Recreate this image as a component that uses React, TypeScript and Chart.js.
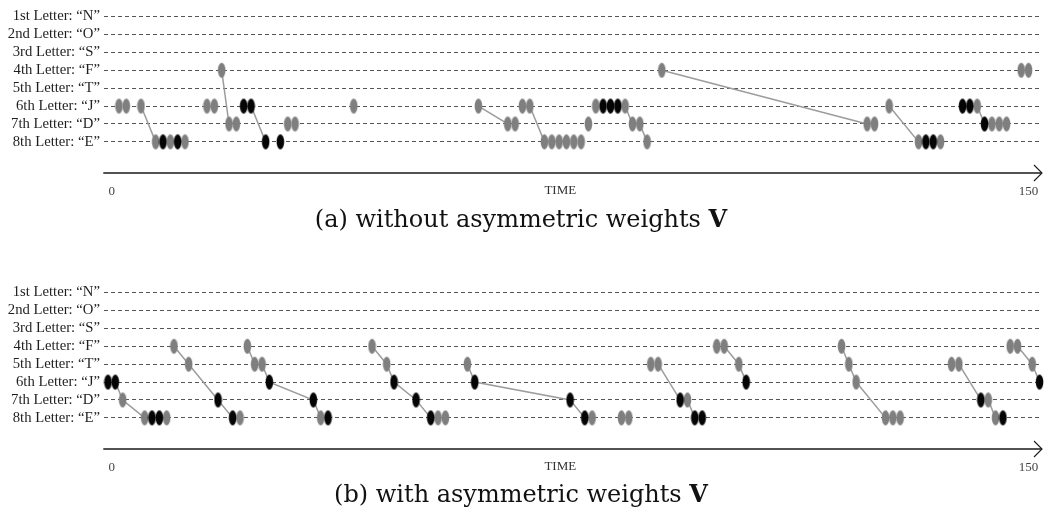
import { useEffect, useRef } from "react";
import { Chart, registerables } from "chart.js";

Chart.register(...registerables);

const FONT = '"Liberation Serif", "Times New Roman", serif';
const CAPTION_FONT = '"DejaVu Serif", "Liberation Serif", serif';

// Row labels, top (row 1) to bottom (row 8)
const rowLabels = [
  "1st Letter: \u201CN\u201D",
  "2nd Letter: \u201CO\u201D",
  "3rd Letter: \u201CS\u201D",
  "4th Letter: \u201CF\u201D",
  "5th Letter: \u201CT\u201D",
  "6th Letter: \u201CJ\u201D",
  "7th Letter: \u201CD\u201D",
  "8th Letter: \u201CE\u201D",
];
const timeTicks = [0, 150];
const timeTitle = "TIME";
const TIME_TITLE_AT = 73.4;

// (a) spike times per letter row; grey and black spikes
const aGrayF = [18, 90, 148.8, 150];
const aGrayJ = [1.2, 2.4, 4.8, 15.6, 16.8, 39.6, 60, 67.2, 68.4, 79.2, 84, 127.2, 141.6];
const aBlackJ = [21.6, 22.8, 80.4, 81.6, 82.8, 139.2, 140.4];
const aGrayD = [19.2, 20.4, 28.8, 30, 64.8, 66, 78, 85.2, 86.4, 123.6, 124.8, 144, 145.2, 146.4];
const aBlackD = [142.8];
const aGrayE = [7.2, 9.6, 12, 70.8, 72, 73.2, 74.4, 75.6, 76.8, 87.6, 132, 135.6];
const aBlackE = [8.4, 10.8, 25.2, 27.6, 133.2, 134.4];
// (a) transitions between letters: [time, row] chains
const aLinks = [
  [[4.8, 6], [7.2, 8]],
  [[18, 4], [19.2, 7]],
  [[22.8, 6], [25.2, 8]],
  [[60, 6], [64.8, 7]],
  [[68.4, 6], [70.8, 8]],
  [[84, 6], [85.2, 7]],
  [[86.4, 7], [87.6, 8]],
  [[90, 4], [123.6, 7]],
  [[127.2, 6], [132, 8]],
  [[141.6, 6], [142.8, 7]],
];

// (b) spike times per letter row; grey and black spikes
const bGrayF = [10.2, 22.2, 42.6, 99, 100.2, 119.4, 147, 148.2];
const bGrayT = [12.6, 23.4, 24.6, 45, 58.2, 88.2, 89.4, 102.6, 120.6, 137.4, 138.6, 150.6];
const bGrayJ = [121.8];
const bBlackJ = [-0.6, 0.6, 25.8, 46.2, 59.4, 103.8, 151.8];
const bGrayD = [1.8, 94.2, 143.4];
const bBlackD = [17.4, 33, 49.8, 75, 93, 142.2];
const bGrayE = [5.4, 9, 21, 34.2, 53.4, 54.6, 78.6, 83.4, 84.6, 126.6, 127.8, 129, 144.6];
const bBlackE = [6.6, 7.8, 19.8, 35.4, 52.2, 77.4, 95.4, 96.6, 145.8];
// (b) transitions between letters: [time, row] chains
const bLinks = [
  [[0.6, 6], [1.8, 7], [5.4, 8]],
  [[10.2, 4], [12.6, 5], [17.4, 7], [19.8, 8]],
  [[22.2, 4], [23.4, 5]],
  [[24.6, 5], [25.8, 6], [33, 7], [34.2, 8]],
  [[42.6, 4], [45, 5], [46.2, 6], [49.8, 7], [52.2, 8]],
  [[58.2, 5], [59.4, 6], [75, 7], [77.4, 8]],
  [[89.4, 5], [93, 7]],
  [[94.2, 7], [95.4, 8]],
  [[100.2, 4], [102.6, 5], [103.8, 6]],
  [[119.4, 4], [120.6, 5], [121.8, 6], [126.6, 8]],
  [[138.6, 5], [142.2, 7]],
  [[143.4, 7], [144.6, 8]],
  [[148.2, 4], [150.6, 5], [151.8, 6]],
];

type Row = [number, number[]];

const panelA = {
  grays: [[4, aGrayF], [6, aGrayJ], [7, aGrayD], [8, aGrayE]] as Row[],
  blacks: [[6, aBlackJ], [7, aBlackD], [8, aBlackE]] as Row[],
  links: aLinks,
};
const panelB = {
  grays: [[4, bGrayF], [5, bGrayT], [6, bGrayJ], [7, bGrayD], [8, bGrayE]] as Row[],
  blacks: [[6, bBlackJ], [7, bBlackD], [8, bBlackE]] as Row[],
  links: bLinks,
};

function makeEllipse(color: string) {
  const c = document.createElement("canvas");
  c.width = 9;
  c.height = 17;
  const g = c.getContext("2d")!;
  g.fillStyle = color;
  g.beginPath();
  g.ellipse(4.5, 8.5, 3.8, 7.4, 0, 0, Math.PI * 2);
  g.fill();
  return c;
}

const timeAxisPlugin = {
  id: "timeAxis",
  afterDraw(chart: any) {
    const { ctx, chartArea: a, scales } = chart;
    const y = a.bottom;
    ctx.save();
    ctx.strokeStyle = "#1a1a1a";
    ctx.lineWidth = 1.4;
    ctx.beginPath();
    ctx.moveTo(a.left - 0.7, y);
    ctx.lineTo(a.right, y);
    ctx.stroke();
    ctx.lineWidth = 1.1;
    ctx.beginPath();
    ctx.moveTo(a.right - 8, y - 8);
    ctx.lineTo(a.right, y);
    ctx.lineTo(a.right - 8, y + 8);
    ctx.stroke();
    ctx.fillStyle = "#333";
    ctx.font = `13px ${FONT}`;
    ctx.textAlign = "center";
    ctx.textBaseline = "middle";
    ctx.fillText(timeTitle, scales.x.getPixelForValue(TIME_TITLE_AT), y + 18);
    ctx.restore();
  },
};

function Panel({ panel, top }: { panel: typeof panelA; top: number }) {
  const ref = useRef<HTMLCanvasElement>(null);
  useEffect(() => {
    const grayImg = makeEllipse("#7f7f7f");
    const blackImg = makeEllipse("#050505");
    const toPoints = (rows: Row[]) =>
      rows.flatMap(([row, times]) => times.map((t) => ({ x: t, y: row })));
    const linkSets = panel.links.map((chain) => ({
      data: chain.map(([t, row]) => ({ x: t, y: row })),
      showLine: true,
      borderColor: "#9c9c9c",
      borderWidth: 1.5,
      pointRadius: 0,
      order: 2,
    }));
    const chart = new Chart(ref.current!, {
      type: "scatter",
      data: {
        datasets: [
          ...linkSets,
          {
            data: toPoints(panel.grays),
            pointStyle: grayImg,
            pointRadius: 4,
            order: 1,
            clip: false,
          },
          {
            data: toPoints(panel.blacks),
            pointStyle: blackImg,
            pointRadius: 4,
            order: 0,
            clip: false,
          },
        ] as any,
      },
      options: {
        responsive: false,
        animation: false,
        layout: { padding: { left: 0, right: 2, top: 0, bottom: 0 } },
        plugins: { legend: { display: false }, tooltip: { enabled: false } },
        scales: {
          x: {
            type: "linear",
            min: -1.25,
            max: 152.2,
            grid: { display: false, drawTicks: false },
            border: { display: false },
            afterBuildTicks: (s: any) => {
              s.ticks = timeTicks.map((v) => ({ value: v }));
            },
            afterFit: (s: any) => {
              s.height = 32;
              s.paddingLeft = 0;
              s.paddingRight = 0;
            },
            ticks: {
              padding: 11,
              autoSkip: false,
              maxRotation: 0,
              color: "#444",
              font: { family: FONT, size: 13 },
            },
          },
          y: {
            type: "linear",
            reverse: true,
            min: 0.35,
            max: 9.74,
            afterBuildTicks: (s: any) => {
              s.ticks = rowLabels.map((_, i) => ({ value: i + 1 }));
            },
            afterFit: (s: any) => {
              s.width = 104;
              s.paddingTop = 0;
              s.paddingBottom = 0;
            },
            grid: { drawTicks: false, color: "#555", lineWidth: 1 },
            border: { display: false, dash: [4, 3] },
            ticks: {
              padding: 4,
              autoSkip: false,
              color: "#1e1e1e",
              font: { family: FONT, size: 14.7 },
              callback: (v: any) => rowLabels[Math.round(v) - 1],
            },
          },
        },
      },
      plugins: [timeAxisPlugin],
    });
    return () => chart.destroy();
  }, [panel]);
  return (
    <canvas
      ref={ref}
      width={1047}
      height={205}
      style={{ position: "absolute", left: 0, top, width: 1047, height: 205 }}
    />
  );
}

function Caption({ label, text, top }: { label: string; text: string; top: number }) {
  return (
    <div
      style={{
        position: "absolute",
        left: 0,
        top,
        width: 1042,
        textAlign: "center",
        fontFamily: CAPTION_FONT,
        fontSize: 24,
        lineHeight: "28px",
        color: "#111",
        whiteSpace: "nowrap",
      }}
    >
      {label} {text} <b>V</b>
    </div>
  );
}

export default function App() {
  useEffect(() => {
    document.body.style.margin = "0";
    document.body.style.background = "#fff";
  }, []);
  return (
    <div style={{ position: "relative", width: 1047, height: 523, background: "#fff", overflow: "hidden" }}>
      <Panel panel={panelA} top={0} />
      <Caption label="(a)" text="without asymmetric weights" top={205} />
      <Panel panel={panelB} top={276} />
      <Caption label="(b)" text="with asymmetric weights" top={480} />
    </div>
  );
}
